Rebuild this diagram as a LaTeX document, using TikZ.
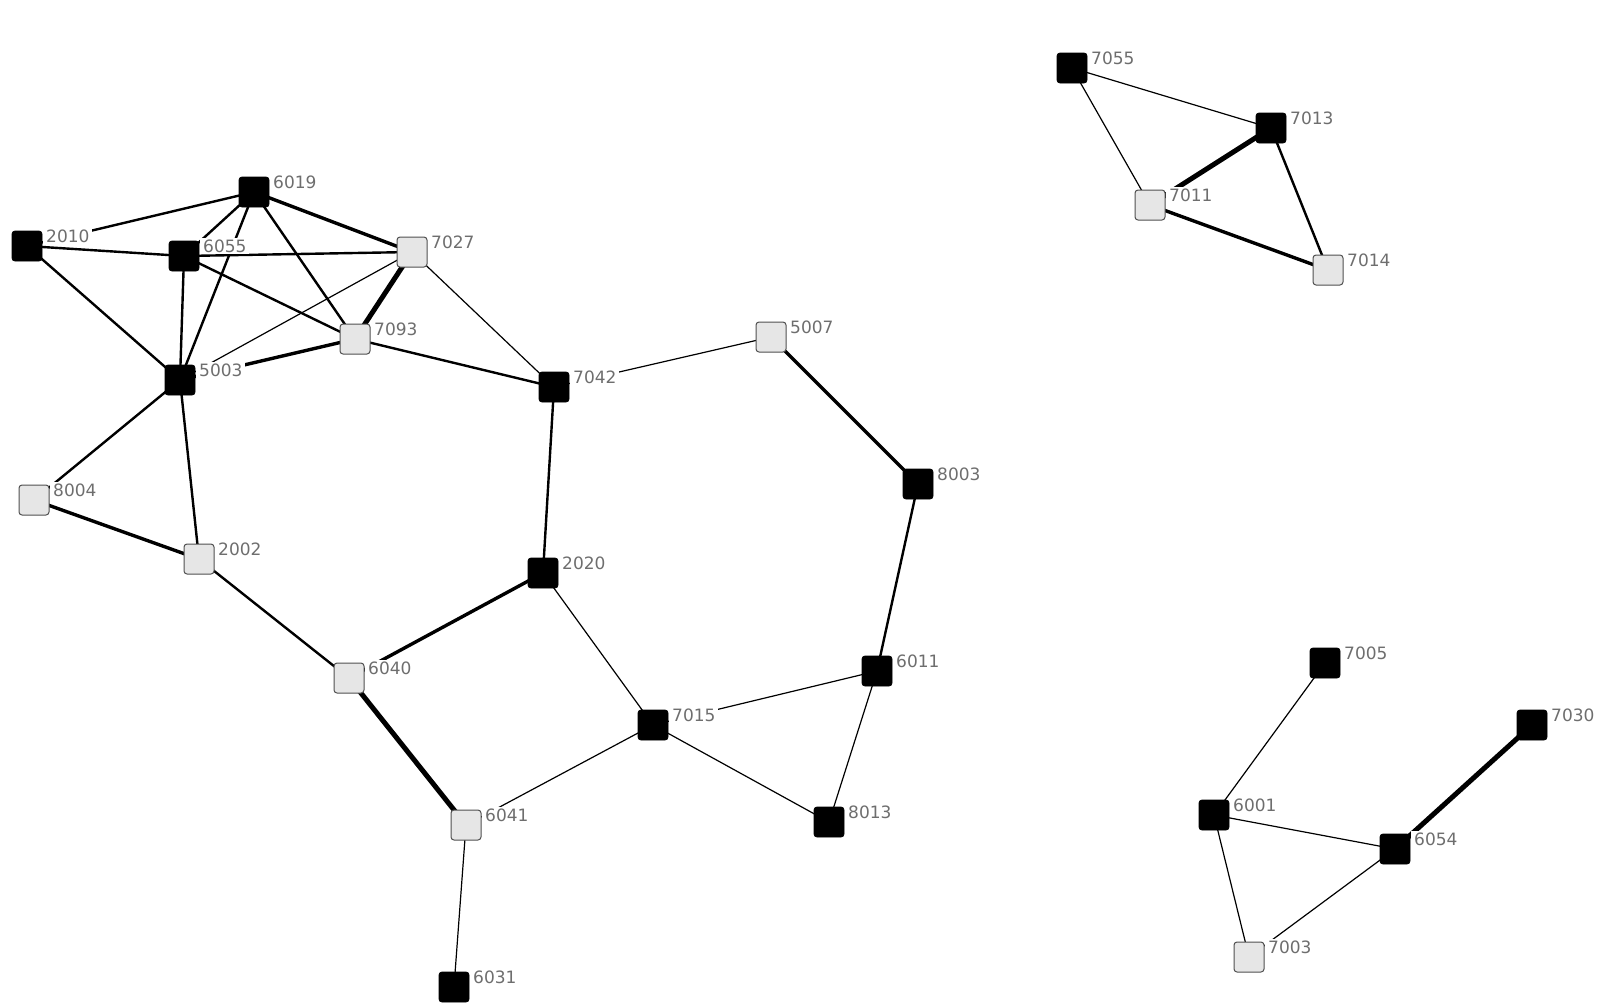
\documentclass[tikz,border=0pt]{standalone}
\usepackage{fontspec}
\setmainfont{DejaVu Sans}
\usetikzlibrary{calc}
\pgfdeclarelayer{bgfill}
\pgfdeclarelayer{edges}
\pgfsetlayers{bgfill,edges,main}
\definecolor{lightbox}{HTML}{E6E6E6}
\definecolor{boxline}{HTML}{505050}
\definecolor{labelgray}{HTML}{6E6E6E}
\tikzset{
  darknode/.style={rectangle, rounded corners=3pt, minimum size=30pt, inner sep=0pt, fill=black, draw=black, line width=0.8pt},
  lightnode/.style={rectangle, rounded corners=3pt, minimum size=30pt, inner sep=0pt, fill=lightbox, draw=boxline, line width=1pt},
  lbl/.style={anchor=west, fill=white, inner ysep=1.5pt, inner xsep=3pt, text=labelgray, font=\fontsize{17}{17}\selectfont},
  thin/.style={line width=1.2pt},
  med/.style={line width=2.4pt},
  thk/.style={line width=3.4pt},
  vthk/.style={line width=5pt},
}
\newcommand\gn[4]{%
  \node[#4] (n#1) at (#2,#3) {};
  \node[lbl] (l#1) at ([xshift=16pt,yshift=10pt]n#1.center) {#1};}
\begin{document}
\begin{tikzpicture}[x=1pt,y=-1pt]
\useasboundingbox (0,0) rectangle (1604,1007);
\begin{pgfonlayer}{bgfill}
\fill[white] (0,0) rectangle (1604,1007);
\end{pgfonlayer}
% left component
\gn{6019}{254}{192}{darknode}
\gn{2010}{27}{246}{darknode}
\gn{6055}{184}{256}{darknode}
\gn{7027}{412}{252}{lightnode}
\gn{7093}{355}{339}{lightnode}
\gn{5003}{180}{380}{darknode}
\gn{7042}{554}{387}{darknode}
\gn{5007}{771}{337}{lightnode}
\gn{8003}{918}{484}{darknode}
\gn{8004}{34}{500}{lightnode}
\gn{2002}{199}{559}{lightnode}
\gn{2020}{543}{573}{darknode}
\gn{6040}{349}{678}{lightnode}
\gn{6011}{877}{671}{darknode}
\gn{7015}{653}{725}{darknode}
\gn{6041}{466}{825}{lightnode}
\gn{8013}{829}{822}{darknode}
\gn{6031}{454}{987}{darknode}
% top right
\gn{7055}{1072}{68}{darknode}
\gn{7013}{1271}{128}{darknode}
\gn{7011}{1150}{205}{lightnode}
\gn{7014}{1328}{270}{lightnode}
% bottom right
\gn{7005}{1325}{663}{darknode}
\gn{7030}{1532}{725}{darknode}
\gn{6001}{1214}{815}{darknode}
\gn{6054}{1395}{849}{darknode}
\gn{7003}{1249}{957}{lightnode}
\begin{pgfonlayer}{edges}
\draw[med] (n6019.center) -- (n2010.center);
\draw[med] (n6019.center) -- (n6055.center);
\draw[med] (n6019.center) -- (n5003.center);
\draw[med] (n6019.center) -- (n7093.center);
\draw[thk] (n6019.center) -- (n7027.center);
\draw[med] (n2010.center) -- (n6055.center);
\draw[med] (n2010.center) -- (n5003.center);
\draw[med] (n6055.center) -- (n7027.center);
\draw[med] (n6055.center) -- (n5003.center);
\draw[med] (n6055.center) -- (n7093.center);
\draw[vthk] (n7027.center) -- (n7093.center);
\draw[thin] (n7027.center) -- (n5003.center);
\draw[thin] (n7027.center) -- (n7042.center);
\draw[thk] (n7093.center) -- (n5003.center);
\draw[med] (n7093.center) -- (n7042.center);
\draw[med] (n5003.center) -- (n8004.center);
\draw[med] (n5003.center) -- (n2002.center);
\draw[thk] (n8004.center) -- (n2002.center);
\draw[med] (n2002.center) -- (n6040.center);
\draw[med] (n7042.center) -- (n2020.center);
\draw[thin] (n7042.center) -- (n5007.center);
\draw[thk] (n5007.center) -- (n8003.center);
\draw[med] (n8003.center) -- (n6011.center);
\draw[thk] (n2020.center) -- (n6040.center);
\draw[thin] (n2020.center) -- (n7015.center);
\draw[vthk] (n6040.center) -- (n6041.center);
\draw[thin] (n6041.center) -- (n7015.center);
\draw[thin] (n6041.center) -- (n6031.center);
\draw[thin] (n7015.center) -- (n6011.center);
\draw[thin] (n7015.center) -- (n8013.center);
\draw[thin] (n6011.center) -- (n8013.center);
\draw[thin] (n7055.center) -- (n7013.center);
\draw[thin] (n7055.center) -- (n7011.center);
\draw[vthk] (n7013.center) -- (n7011.center);
\draw[med] (n7013.center) -- (n7014.center);
\draw[thk] (n7011.center) -- (n7014.center);
\draw[thin] (n7005.center) -- (n6001.center);
\draw[vthk] (n7030.center) -- (n6054.center);
\draw[thin] (n6001.center) -- (n6054.center);
\draw[thin] (n6001.center) -- (n7003.center);
\draw[thin] (n6054.center) -- (n7003.center);
\end{pgfonlayer}
\end{tikzpicture}
\end{document}
